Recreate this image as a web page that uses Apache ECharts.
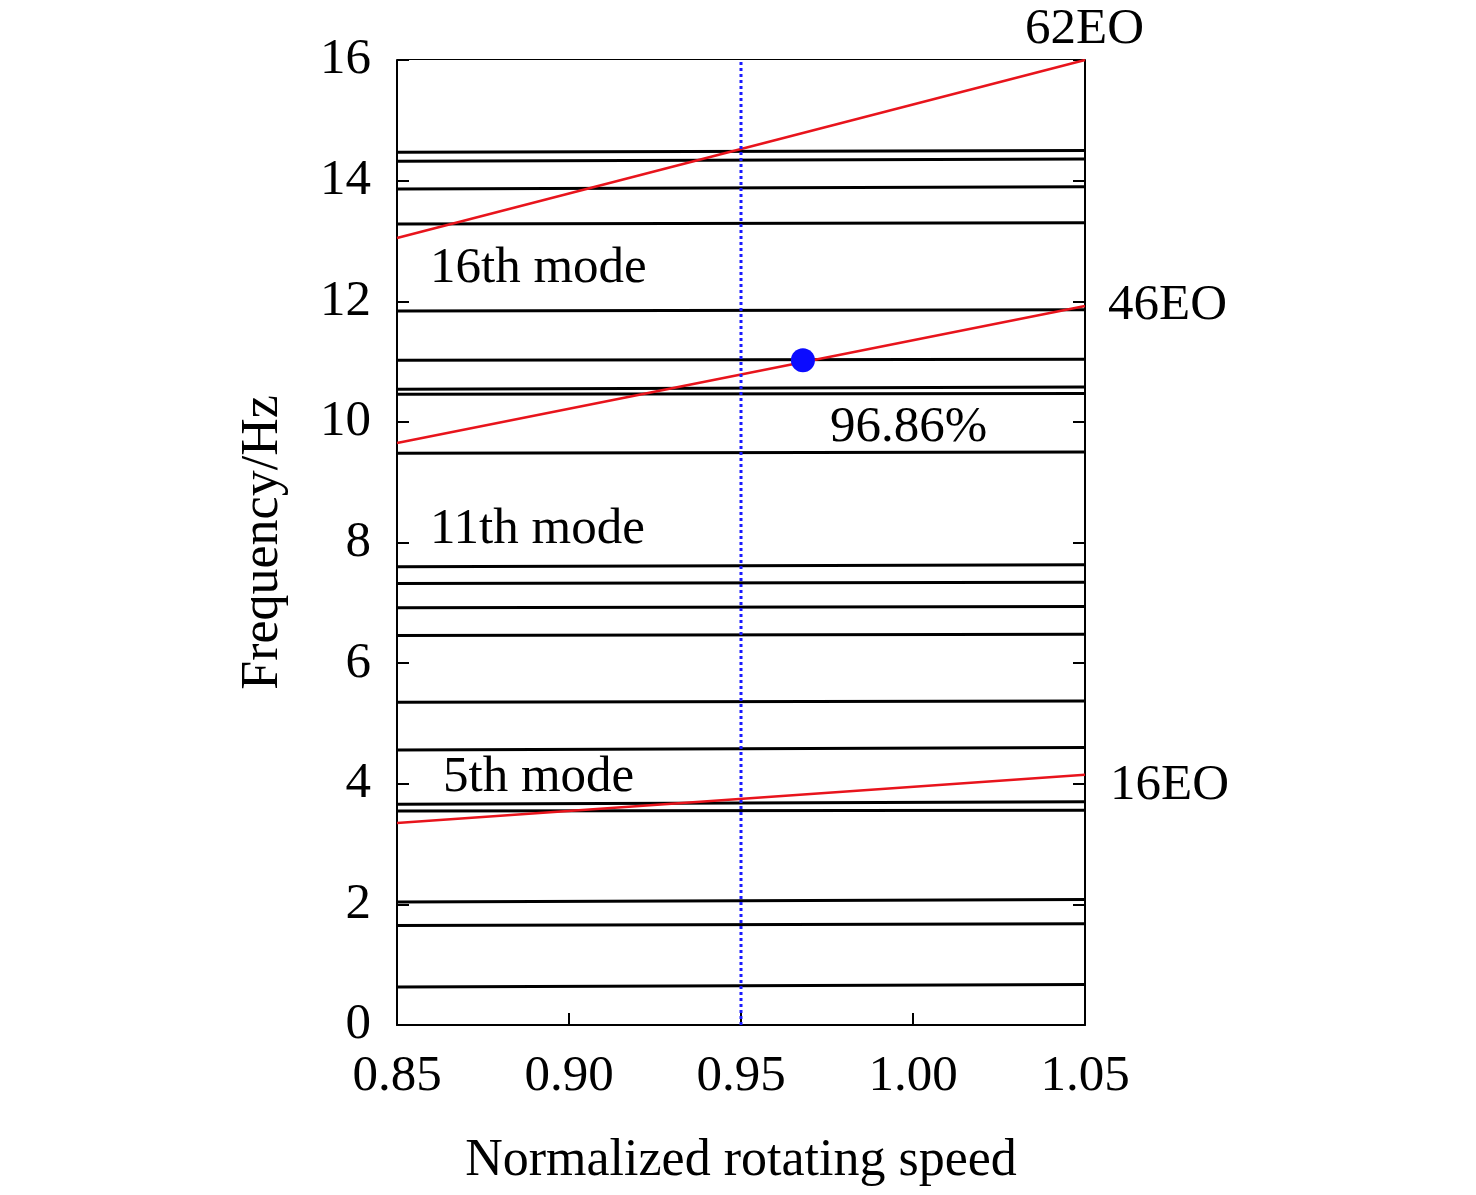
<!DOCTYPE html>
<html><head><meta charset="utf-8">
<script src="https://cdn.jsdelivr.net/npm/echarts@6/dist/echarts.min.js"></script>
<style>html,body{margin:0;background:#fff}#c{width:1476px;height:1195px}</style>
</head><body><div id="c"></div>
<script>
// mode frequencies [left value, right value] at speed 0.85 and 1.05
const modeLines = [
  [0.63, 0.67], [1.65, 1.68], [2.04, 2.08], [3.55, 3.56], [3.66, 3.70],
  [4.56, 4.60], [5.35, 5.37], [6.46, 6.48], [6.92, 6.94], [7.32, 7.34],
  [7.60, 7.63], [9.48, 9.50], [10.46, 10.47], [10.54, 10.58], [11.02, 11.04],
  [11.84, 11.86], [13.28, 13.30], [13.86, 13.90], [14.32, 14.36], [14.47, 14.50]
];
const speedRange = [0.85, 1.05];
const eoLines = {
  '62EO': [13.05, 16.0],
  '46EO': [9.65, 11.92],
  '16EO': [3.35, 4.15]
};
const resonance = [0.968, 11.02];
const refSpeed = 0.95;

const font = 'Liberation Serif';
const series = [];
modeLines.forEach(m => series.push({
  type: 'line', symbol: 'none', silent: true,
  lineStyle: { color: '#000', width: 3 },
  data: [[speedRange[0], m[0]], [speedRange[1], m[1]]]
}));
Object.keys(eoLines).forEach(k => series.push({
  name: k, type: 'line', symbol: 'none',
  lineStyle: { color: '#e8141c', width: 2.5 },
  data: [[speedRange[0], eoLines[k][0]], [speedRange[1], eoLines[k][1]]]
}));
series.push({
  type: 'line', symbol: 'none',
  lineStyle: { color: '#1a1aff', width: 3, type: 'dotted' },
  data: [[refSpeed, 0], [refSpeed, 16]]
});
series.push({
  type: 'scatter', symbolSize: 24, itemStyle: { color: '#0b0bff', opacity: 1 },
  data: [resonance], z: 10
});

const chart = echarts.init(document.getElementById('c'));
const txt = (x, y, t) => ({ type: 'text', left: x, top: y, style: { text: t, font: '51px "' + font + '"', fill: '#000' } });
chart.setOption({
  animation: false,
  grid: { left: 397, right: 391, top: 60, bottom: 170 },
  xAxis: {
    type: 'value', min: 0.85, max: 1.05, interval: 0.05,
    name: 'Normalized rotating speed', nameLocation: 'middle', nameGap: 110,
    nameTextStyle: { fontFamily: font, fontSize: 52, color: '#000' },
    axisLine: { lineStyle: { color: '#000', width: 2 } },
    axisTick: { inside: true, length: 12, lineStyle: { color: '#000', width: 2 } },
    axisLabel: { fontFamily: font, fontSize: 51, color: '#000', margin: 26, formatter: v => v.toFixed(2) },
    splitLine: { show: false }
  },
  yAxis: [{
    type: 'value', min: 0, max: 16, interval: 2,
    name: 'Frequency/Hz', nameLocation: 'middle', nameGap: 108,
    nameTextStyle: { fontFamily: font, fontSize: 52, color: '#000' },
    axisLine: { show: true, lineStyle: { color: '#000', width: 2 } },
    axisTick: { inside: true, length: 12, lineStyle: { color: '#000', width: 2 } },
    axisLabel: { fontFamily: font, fontSize: 51, color: '#000', margin: 26 },
    splitLine: { show: false }
  }, {
    type: 'value', min: 0, max: 16, interval: 2, position: 'right',
    axisLine: { show: true, lineStyle: { color: '#000', width: 2 } },
    axisTick: { inside: true, length: 12, lineStyle: { color: '#000', width: 2 } },
    axisLabel: { show: false }, splitLine: { show: false }
  }],
  graphic: [
    { type: 'rect', shape: { x: 397, y: 59, width: 688, height: 1 }, style: { fill: '#000' } },
    txt(1025, 4, '62EO'), txt(1108, 280, '46EO'), txt(1110, 760, '16EO'),
    txt(430, 243, '16th mode'), txt(430, 504, '11th mode'), txt(443, 752, '5th mode'),
    txt(830, 402, '96.86%')
  ],
  series
});
</script></body></html>
